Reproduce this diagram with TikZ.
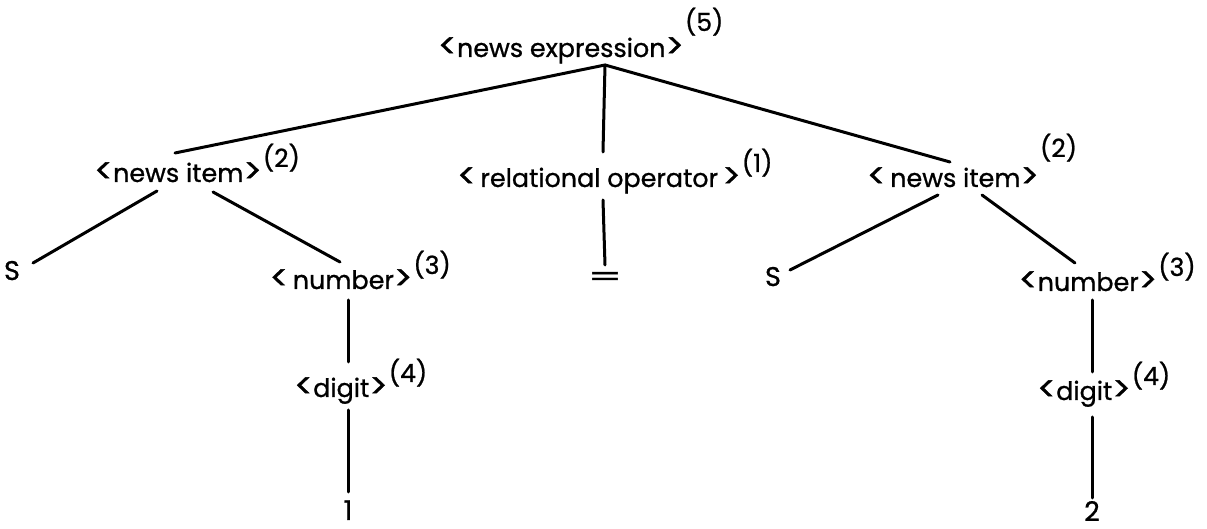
\documentclass[tikz,border=0pt]{standalone}
\usepackage{fontspec}
\setmainfont{Poppins}[FakeBold=0.9]
\usetikzlibrary{positioning,calc}
\newcommand{\gidx}[2][7.5pt]{\rlap{\kern0.5pt\raisebox{#1}{\fontsize{12.5}{13}\selectfont(#2)}}}
\newcommand{\cat}[1]{\raisebox{-0.4pt}{\scalebox{1.35}{<}}#1\raisebox{-0.4pt}{\scalebox{1.35}{>}}}
\tikzset{
  catnode/.style={
    inner sep=0pt, anchor=base,
    font=\fontsize{12.7}{15}\selectfont
  },
  termnode/.style={
    inner sep=0pt, anchor=base,
    font=\fontsize{13.5}{15}\selectfont
  },
  treeline/.style={
    line width=1.5pt, line cap=round, draw=black
  }
}
\begin{document}
\begin{tikzpicture}[x=0.5pt, y=-0.5pt]
    \useasboundingbox (0,0) rectangle (1207,529);

    % Categories
    \node[catnode] (expr) at (561,57) {\cat{news expression}\gidx[13pt]{5}};
    \node[catnode] (item1) at (178,182) {\cat{news item}\gidx{2}};
    \node[catnode] (oper) at (599,187) {\cat{\,relational operator\,}\gidx{1}};
    \node[catnode] (item2) at (953,187) {\cat{\,news item}\gidx[15pt]{2}};
    \node[catnode] (num1) at (341,289) {\cat{\,number}\gidx{3}};
    \node[catnode] (num2) at (1088,291) {\cat{number}\gidx{3}};
    \node[catnode] (dig1) at (341,397) {\cat{digit}\gidx{4}};
    \node[catnode] (dig2) at (1084,400) {\cat{digit}\gidx{4}};

    % Terminals
    \node[termnode] (s1) at (12,280) {S};
    \node[termnode] (s2) at (773,286) {S};
    \node[termnode, anchor=center] (eq) at (605,279) {\scalebox{1.8}[1]{=}};
    \node[termnode] (one) at (348,520) {1};
    \node[termnode] (two) at (1092,521) {2};

    % Branches
    \draw[treeline] ($(expr.base)+(44,8)$) -- ($(item1.base)+(-3,-29)$);
    \draw[treeline] ($(expr.base)+(44,8)$) -- ($(oper.base)+(4,-35)$);
    \draw[treeline] ($(expr.base)+(44,8)$) -- ($(item2.base)+(-3,-25)$);

    \draw[treeline] ($(item1.base)+(-21,9)$) -- ($(s1.base)+(21,-17)$);
    \draw[treeline] ($(item1.base)+(35,10)$) -- ($(num1.base)+(-1,-27)$);
    \draw[treeline] ($(num1.base)+(7,11)$) -- ($(dig1.base)+(7,-35)$);
    \draw[treeline] ($(dig1.base)+(7,13)$) -- ($(one.base)+(0,-28)$);

    \draw[treeline] ($(oper.base)+(4,13)$) -- ($(eq.center)+(0,-14)$);

    \draw[treeline] ($(item2.base)+(-15,8)$) -- ($(s2.base)+(17,-16)$);
    \draw[treeline] ($(item2.base)+(29,8)$) -- ($(num2.base)+(-13,-28)$);
    \draw[treeline] ($(num2.base)+(4,9)$) -- ($(dig2.base)+(8,-28)$);
    \draw[treeline] ($(dig2.base)+(8,17)$) -- ($(two.base)+(0,-23)$);
\end{tikzpicture}
\end{document}
